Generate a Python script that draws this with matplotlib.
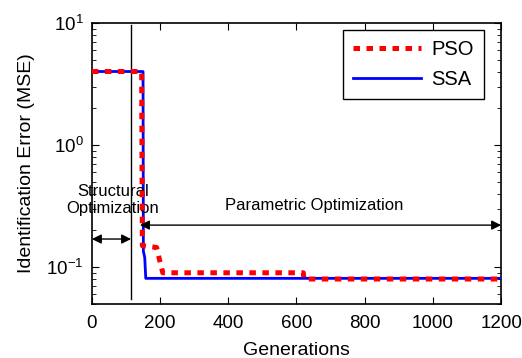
import matplotlib
matplotlib.use("Agg")
import matplotlib.pyplot as plt

plt.rcParams['font.family'] = ['Liberation Sans', 'DejaVu Sans']
plt.rcParams['mathtext.default'] = 'regular'

# convergence curves (generation, MSE)
pso_gen = [0, 146, 148, 190, 200, 208, 620, 622, 1200]
pso_mse = [4.0, 4.0, 0.15, 0.145, 0.11, 0.09, 0.09, 0.08, 0.08]
ssa_gen = [0, 150, 151, 155, 158, 1200]
ssa_mse = [4.0, 4.0, 0.135, 0.12, 0.081, 0.081]

split_gen = 115          # end of structural optimization stage
xticks = [0, 200, 400, 600, 800, 1000, 1200]

fig = plt.figure(figsize=(5.22, 3.58), dpi=100)
ax = fig.add_axes([0.176, 0.151, 0.784, 0.785])

ax.plot(ssa_gen, ssa_mse, color='blue', linewidth=2.0, label='SSA', zorder=3)
ax.plot(pso_gen, pso_mse, color='red', linestyle=(0, (1.3, 1.3)), linewidth=3.6,
        label='PSO', zorder=4, dash_capstyle='butt')

ax.set_yscale('log')
ax.set_xlim(0, 1200)
ax.set_ylim(0.05, 10)
ax.set_xticks(xticks)
ax.tick_params(direction='in', top=True, right=True, which='both', labelsize=13.5)
ax.tick_params(which='major', length=5)
ax.tick_params(which='minor', length=3)
ax.tick_params(axis='x', pad=8)
ax.tick_params(axis='y', pad=6)
for s in ax.spines.values():
    s.set_linewidth(1.2)

ax.set_xlabel('Generations', fontsize=14, labelpad=7)
ax.set_ylabel('Identification Error (MSE)', fontsize=14, labelpad=8)

# stage separator and annotations
ax.plot([split_gen, split_gen], [0.055, 9.6], color='black', linewidth=1.0)
ax.annotate('', xy=(0, 0.17), xytext=(split_gen, 0.17),
            arrowprops=dict(arrowstyle='<|-|>', color='black', lw=1.0,
                            mutation_scale=14, shrinkA=0, shrinkB=0))
ax.annotate('', xy=(141, 0.221), xytext=(1200, 0.221),
            arrowprops=dict(arrowstyle='<|-|>', color='black', lw=1.0,
                            mutation_scale=14, shrinkA=0, shrinkB=0))
ax.text(62, 0.354, 'Structural\nOptimization', fontsize=12, ha='center',
        va='center', linespacing=1.2)
ax.text(651, 0.318, 'Parametric Optimization', fontsize=12, ha='center',
        va='center')

handles, labels = ax.get_legend_handles_labels()
leg = ax.legend(handles[::-1], labels[::-1], loc='upper center',
                bbox_to_anchor=(0.786, 0.975), borderaxespad=0, fontsize=14.5,
                handlelength=3.4, handletextpad=0.5, labelspacing=0.55,
                fancybox=False, framealpha=1, edgecolor='black', borderpad=0.5)
leg.get_frame().set_linewidth(1.0)

fig.savefig('out.png', dpi=100)
